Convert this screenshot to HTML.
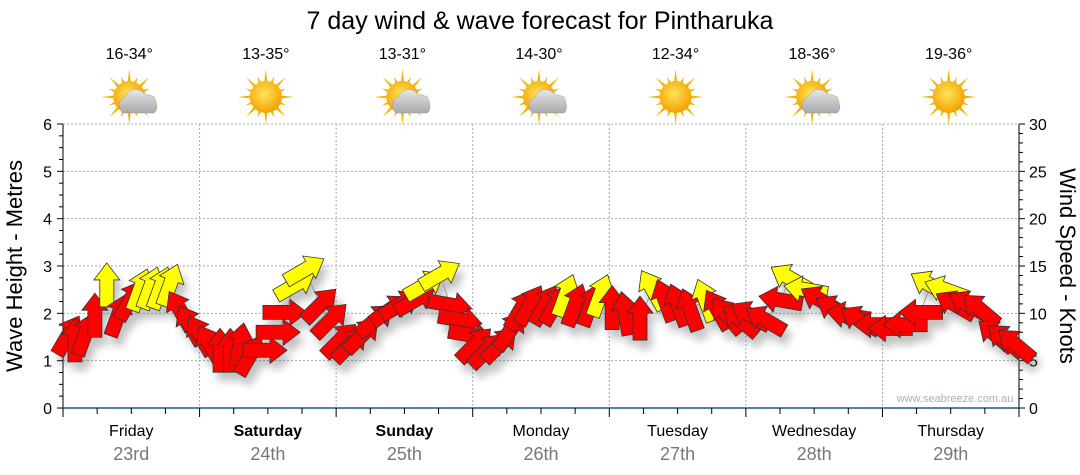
<!DOCTYPE html>
<html><head><meta charset="utf-8"><style>
body{margin:0;background:#fff;}
svg{display:block;font-family:"Liberation Sans",sans-serif;}
</style></head><body>
<svg id="c" width="1080" height="475" viewBox="0 0 1080 475">
<defs>
<filter id="sh" x="-50%" y="-50%" width="200%" height="200%"><feGaussianBlur stdDeviation="4"/></filter>
<radialGradient id="sunG" cx="45%" cy="40%" r="60%"><stop offset="0" stop-color="#ffe45a"/><stop offset="1" stop-color="#f5a000"/></radialGradient>
<linearGradient id="cloudG" x1="0" y1="0" x2="0" y2="1"><stop offset="0" stop-color="#e8e8e8"/><stop offset="1" stop-color="#a8a8a8"/></linearGradient>
</defs>
<text x="540" y="29" text-anchor="middle" font-size="25" fill="#000">7 day wind &amp; wave forecast for Pintharuka</text>
<g id="grid"></g>
<g id="axes"></g>
<g id="shadows" filter="url(#sh)" opacity="0.35"></g>
<g id="arrows"></g>
<g id="icons"></g>
<text x="955" y="402" text-anchor="middle" font-size="11" fill="#a8b0bc">www.seabreeze.com.au</text>
<text transform="translate(22,266) rotate(-90)" text-anchor="middle" font-size="22" fill="#000">Wave Height - Metres</text>
<text transform="translate(1060,266) rotate(90)" text-anchor="middle" font-size="22" fill="#000">Wind Speed - Knots</text>
</svg>
<script>
const days=["Friday","Saturday","Sunday","Monday","Tuesday","Wednesday","Thursday"];
const dates=["23rd","24th","25th","26th","27th","28th","29th"];
const boldDays=[false,true,true,false,false,false,false];
const temps=["16-34°","13-35°","13-31°","14-30°","12-34°","18-36°","19-36°"];
const cloudy=[true,false,true,true,false,true,false];
const leftTicks=[0,1,2,3,4,5,6];
const rightTicks=[0,5,10,15,20,25,30];
const hours=[0.9,2.1,3.9,5.6,7.7,9.7,11.8,13.5,15.3,17.1,18.8,20.6,22.3,
24.1,25.8,27.6,29.4,31.1,32.9,35.5,37.8,39.0,40.8,42.5,45.2,47.0,
48.7,50.5,52.6,54.9,57.5,59.3,61.9,63.6,66.3,68.0,69.8,71.6,
72.4,74.5,76.8,78.6,80.4,82.1,84.7,86.5,88.3,90.0,92.7,94.4,
96.5,98.8,101.4,103.6,105.8,108.1,110.2,112.9,115.0,116.7,119.0,
120.8,123.4,126.1,127.8,130.5,133.1,135.7,138.0,140.1,142.8,
145.4,148.0,150.7,152.4,155.1,156.8,159.1,161.2,163.9,165.6,167.4];
const knots=[7.7,7.2,7.8,9.8,13.0,9.8,11.4,12.5,12.7,12.7,13.0,10.3,8.8,
7.7,6.7,6.1,6.1,6.7,5.6,6.1,8.0,10.1,13.0,14.6,10.9,9.3,
7.2,6.7,7.7,9.3,10.4,10.9,11.4,13.0,14.1,10.9,9.3,7.7,
6.7,6.1,6.7,8.2,10.4,10.9,10.9,10.9,11.9,10.9,10.9,11.9,
10.6,10.0,9.5,12.5,11.4,10.9,10.4,11.4,10.4,9.8,9.3,
9.8,9.3,11.4,13.7,12.5,11.4,10.4,9.8,9.3,8.8,
8.4,8.8,10.1,13.0,12.5,10.9,10.9,10.4,7.7,7.2,6.7];
const dirs=[30,0,20,0,0,20,30,20,20,20,20,-30,-30,
-30,-30,0,0,10,30,90,90,90,60,60,45,45,
45,45,45,50,55,60,60,60,60,100,100,100,
45,45,45,35,30,30,30,30,20,20,20,20,
0,-10,0,-30,-20,-20,-20,-20,-30,-40,-50,
-60,-60,-80,-60,-80,-60,-60,-80,-60,-90,
-90,-90,-90,-60,-70,-60,-60,-50,-50,-50,-50];
const yellow=[0,0,0,0,1,0,0,1,1,1,1,0,0,
0,0,0,0,0,0,0,0,0,1,1,0,0,
0,0,0,0,0,0,0,1,1,0,0,0,
0,0,0,0,0,0,0,0,1,0,0,1,
0,0,0,1,0,0,0,1,0,0,0,
0,0,0,1,1,0,0,0,0,0,
0,0,0,1,1,0,0,0,0,0,0];

const NS="http://www.w3.org/2000/svg";
const X0=63,X1=1019,Y0=408,Y1=124;
const xH=h=>X0+h*(X1-X0)/168;
const yM=m=>Y0-m*(Y0-Y1)/6;
const yK=k=>Y0-k*(Y0-Y1)/30;
function mk(tag,at,parent){const e=document.createElementNS(NS,tag);for(const k in at)e.setAttribute(k,at[k]);parent.appendChild(e);return e;}
const grid=document.getElementById('grid'),axes=document.getElementById('axes');
for(let m=1;m<=6;m++){const l=mk('line',{x1:X0,x2:X1,y1:yM(m),y2:yM(m),stroke:'#aaa','stroke-dasharray':'2,2'},grid);

}
for(let d=1;d<7;d++){const l=mk('line',{x1:xH(d*24),x2:xH(d*24),y1:Y1,y2:Y0,stroke:'#aaa','stroke-dasharray':'2,2'},grid);

}
mk('line',{x1:X0,x2:X0,y1:Y1,y2:Y0,stroke:'#000'},axes);
mk('line',{x1:X1,x2:X1,y1:Y1,y2:Y0,stroke:'#000'},axes);
mk('line',{x1:X0,x2:X1,y1:Y0,y2:Y0,stroke:'#1f5a85','stroke-width':1.5},axes);
for(let i=0;i<=24;i++){const y=yM(i/4),w=i%4==0?6:4;mk('line',{x1:X0-w,x2:X0,y1:y,y2:y,stroke:'#000'},axes);}
for(let i=0;i<=30;i++){const y=yK(i),w=i%5==0?6:4;mk('line',{x1:X1,x2:X1+w,y1:y,y2:y,stroke:'#000'},axes);}
for(let i=0;i<=28;i++){const x=xH(i*6);mk('line',{x1:x,x2:x,y1:Y0,y2:Y0+(i%4==0?9:6),stroke:'#000'},axes);}
leftTicks.forEach(v=>{const t=mk('text',{x:X0-11,y:yM(v)+6,'text-anchor':'end','font-size':16,fill:'#000'},axes);t.textContent=v;

});
rightTicks.forEach(v=>{const t=mk('text',{x:X1+10,y:yK(v)+6,'font-size':16,fill:'#000'},axes);t.textContent=v;

});
days.forEach((d,i)=>{const cx=xH(i*24+12);
const t=mk('text',{x:cx,y:436,'text-anchor':'middle','font-size':16,fill:'#000','font-weight':boldDays[i]?'bold':'normal'},axes);t.textContent=d;


const t2=mk('text',{x:cx,y:460,'text-anchor':'middle','font-size':18,fill:'#777'},axes);t2.textContent=dates[i];


const t3=mk('text',{x:cx-2,y:59,'text-anchor':'middle','font-size':16,fill:'#000'},axes);t3.textContent=temps[i];


const g=mk('g',{transform:`translate(${cx-2},97)`},document.getElementById('icons'));


for(let r=0;r<16;r++){const a=r*Math.PI/8,L=r%2?22:28;mk('polygon',{points:`${Math.cos(a-0.12)*14},${Math.sin(a-0.12)*14} ${Math.cos(a)*L},${Math.sin(a)*L} ${Math.cos(a+0.12)*14},${Math.sin(a+0.12)*14}`,fill:'#f2b400'},g);}
mk('circle',{cx:0,cy:0,r:16,fill:'url(#sunG)'},g);
if(cloudy[i]){mk('path',{d:'M-6,16 a9,9 0 0 1 2,-16 a11,11 0 0 1 20,-2 a9,9 0 0 1 11,9 a8,8 0 0 1 -2,9 z',fill:'url(#cloudG)',stroke:'#999','stroke-width':0.5},g);}
});
const shp='M0,-22 L13,-5 L7,-5 L7,22 L-7,22 L-7,-5 L-13,-5 Z';
const sg=document.getElementById('shadows'),ag=document.getElementById('arrows');
for(let i=0;i<hours.length-1;i++){mk('line',{x1:xH(hours[i]),y1:yK(knots[i]),x2:xH(hours[i+1]),y2:yK(knots[i+1]),stroke:'#999'},ag);}
hours.forEach((h,i)=>{const x=xH(h),y=yK(knots[i]);
mk('path',{d:shp,transform:`translate(${x+5},${y+9}) rotate(${dirs[i]})`,fill:'#555'},sg);
const p=mk('path',{d:shp,transform:`translate(${x},${y}) rotate(${dirs[i]})`,fill:yellow[i]?'#ffff00':'#ff0000',stroke:'#333','stroke-width':0.8},ag);

});
</script>
</body></html>
